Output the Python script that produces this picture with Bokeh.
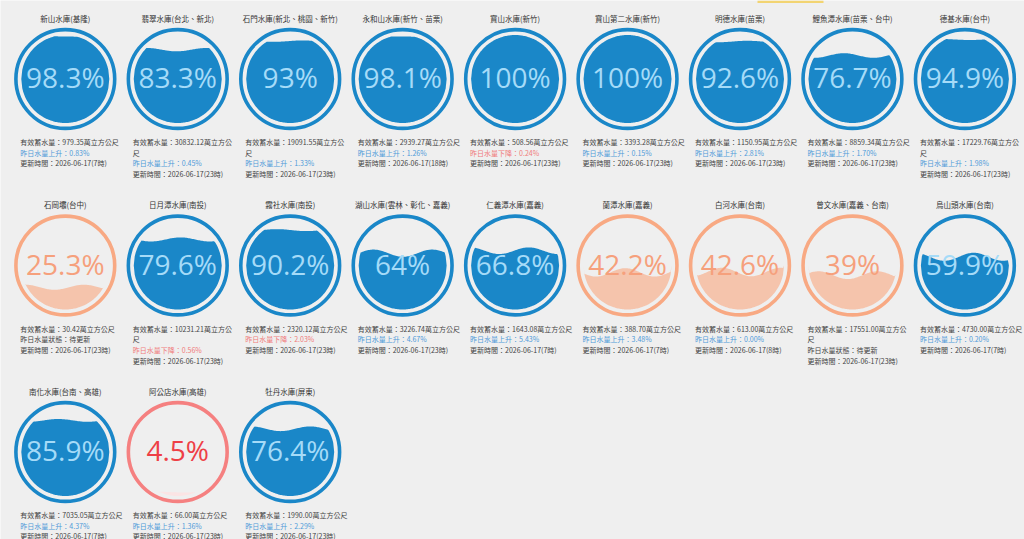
import math
from bokeh.plotting import figure
from bokeh.models import Range1d, BoxAnnotation
from bokeh.core.properties import value
from bokeh.embed import file_html
from bokeh.resources import INLINE

# Reservoir data
names = [
    "新山水庫(基隆)", "翡翠水庫(台北、新北)", "石門水庫(新北、桃園、新竹)",
    "永和山水庫(新竹、苗栗)", "寶山水庫(新竹)", "寶山第二水庫(新竹)",
    "明德水庫(苗栗)", "鯉魚潭水庫(苗栗、台中)", "德基水庫(台中)",
    "石岡壩(台中)", "日月潭水庫(南投)", "霧社水庫(南投)",
    "湖山水庫(雲林、彰化、嘉義)", "仁義潭水庫(嘉義)", "蘭潭水庫(嘉義)",
    "白河水庫(台南)", "曾文水庫(嘉義、台南)", "烏山頭水庫(台南)",
    "南化水庫(台南、高雄)", "阿公店水庫(高雄)", "牡丹水庫(屏東)",
]
percent = [98.3, 83.3, 93, 98.1, 100, 100, 92.6, 76.7, 94.9,
           25.3, 79.6, 90.2, 64, 66.8, 42.2, 42.6, 39, 59.9,
           85.9, 4.5, 76.4]
volume = ["979.35", "30832.12", "19091.55", "2939.27", "508.56", "3393.28",
          "1150.95", "8859.34", "17229.76", "30.42", "10231.21", "2320.12",
          "3226.74", "1643.08", "388.70", "613.00", "17551.00", "4730.00",
          "7035.05", "66.00", "1990.00"]
# daily change in %, None = status pending
change = [0.83, 0.45, 1.33, 1.26, -0.24, 0.15, 2.81, 1.70, 1.98,
          None, -0.56, -2.03, 4.67, 5.43, 3.48, 0.00, None, 0.20,
          4.37, 1.36, 2.29]
update_hour = [7, 23, 23, 18, 23, 23, 23, 23, 23,
               23, 23, 23, 23, 7, 7, 8, 23, 7,
               7, 23, 23]
update_date = "2026-06-17"

W, H = 1024, 539
CJK = "Noto Sans CJK TC"

p = figure(width=W, height=H, output_backend="svg", toolbar_location=None,
           x_range=Range1d(0, W), y_range=Range1d(H, 0),
           min_border=0, background_fill_color="#efefef",
           border_fill_color="#efefef", outline_line_color=None)
p.axis.visible = False
p.grid.visible = False

p.add_layout(BoxAnnotation(left=757, right=823, top=0, bottom=2.5,
                           fill_color="#f2d472", fill_alpha=1, line_color=None))

COLS = 9
X0, DX = 64.8, 112.45
Y0, DY = 78.5, 186.5
R_RING, R_FILL = 49.4, 44.0

def palette(pct):
    if pct < 10:
        return dict(ring="#f58080", fill="#fbe4e4", text="#ee3f46")
    if pct < 50:
        return dict(ring="#f8a983", fill="#f5c4ac", text="#f6a07c")
    return dict(ring="#1a87c8", fill="#1a87c8", text="#a5dbf8")

ring_x, ring_y, ring_c = [], [], []
fill_xs, fill_ys, fill_c = [], [], []
pct_x, pct_y, pct_t, pct_c = [], [], [], []
tx, ty, tt, tc = [], [], [], []
ix, iy, it, ic = [], [], [], []

for i, name in enumerate(names):
    cx = X0 + DX * (i % COLS)
    cy = Y0 + DY * (i // COLS)
    pct = percent[i]
    pal = palette(pct)

    ring_x.append(cx); ring_y.append(cy); ring_c.append(pal["ring"])

    # liquid surface clipped to the inner circle
    level = cy + R_FILL - 2 * R_FILL * pct / 100.0
    amp = 5.0 * max(0.0, 1 - abs(pct - 50) / 50.0)
    wl = 2 * R_FILL / 1.5
    phase = 1.7 * i
    n = 90
    top_x, top_y, bot_y = [], [], []
    for k in range(n + 1):
        x = cx - R_FILL + 2 * R_FILL * k / n
        dx = x - cx
        h = math.sqrt(max(R_FILL ** 2 - dx ** 2, 0.0))
        yt = level + amp * math.sin(2 * math.pi * dx / wl + phase)
        yt = max(yt, cy - h)
        yb = cy + h
        yt = min(yt, yb)
        top_x.append(x); top_y.append(yt); bot_y.append(yb)
    fill_xs.append(top_x + top_x[::-1])
    fill_ys.append(top_y + bot_y[::-1])
    fill_c.append(pal["fill"])

    pct_x.append(cx); pct_y.append(cy - 2)
    pct_t.append(f"{pct:g}%"); pct_c.append(pal["text"])

    tx.append(cx); ty.append(cy - 61); tt.append(name); tc.append("#333333")

    # info lines below the gauge
    lx = cx - 45
    ly = cy + 63
    step = 10.7
    vol_line = f"有效蓄水量：{volume[i]}萬立方公尺"
    if len(volume[i]) >= 8:
        lines = [(vol_line[:-1], "#444444"), ("尺", "#444444")]
    else:
        lines = [(vol_line, "#444444")]
    c = change[i]
    if c is None:
        lines.append(("昨日水量狀態：待更新", "#444444"))
    elif c < 0:
        lines.append((f"昨日水量下降：{abs(c):.2f}%", "#f07c7c"))
    else:
        lines.append((f"昨日水量上升：{c:.2f}%", "#4f9bd9"))
    lines.append((f"更新時間：{update_date}({update_hour[i]}時)", "#444444"))
    for j, (s, col) in enumerate(lines):
        ix.append(lx); iy.append(ly + step * j); it.append(s); ic.append(col)

p.patches(xs=fill_xs, ys=fill_ys, fill_color=fill_c, line_color=None)
p.circle(x=ring_x, y=ring_y, radius=R_RING, fill_color=None,
         line_color=ring_c, line_width=3.6)
p.text(x=pct_x, y=pct_y, text=pct_t, text_color=pct_c,
       text_font=value("Open Sans"), text_font_size="28px",
       text_align="center", text_baseline="middle")
p.text(x=tx, y=ty, text=tt, text_color=tc, text_font=value(CJK),
       text_font_size="7.5px", text_align="center", text_baseline="middle")
p.text(x=ix, y=iy, text=it, text_color=ic, text_font=value(CJK),
       text_font_size="7px", text_align="left", text_baseline="middle")

open("out.html", "w").write(file_html(p, INLINE))
